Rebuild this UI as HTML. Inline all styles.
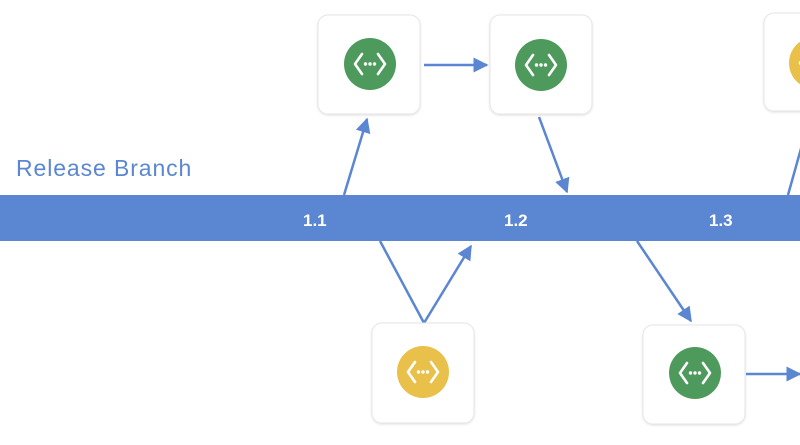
<!DOCTYPE html>
<html><head><style>
body{margin:0;background:#fff;width:800px;height:440px;overflow:hidden;font-family:"Liberation Sans",sans-serif}
</style></head><body>
<svg width="800" height="440">
<defs>
<marker id="ah" viewBox="0 0 10 10" refX="9" refY="5" markerWidth="6" markerHeight="6" orient="auto"><path d="M0,0L10,5L0,10z" fill="#5b86d1"/></marker>
<filter id="sh" x="-10%" y="-10%" width="120%" height="120%"><feDropShadow dx="0" dy="1" stdDeviation="1" flood-color="#000" flood-opacity="0.12"/></filter>
<g id="ic"><path d="M-8,-10L-15,0L-8,10M8,-10L15,0L8,10" fill="none" stroke="#fff" stroke-width="2.6" stroke-linecap="round" stroke-linejoin="round"/><circle cx="-4.5" cy="0" r="1.7" fill="#fff"/><circle cx="0" cy="0" r="1.7" fill="#fff"/><circle cx="4.5" cy="0" r="1.7" fill="#fff"/></g>
</defs>
<text x="16" y="176" font-size="23" letter-spacing="0.9" fill="#5b86d1">Release Branch</text>
<rect x="0" y="195" width="800" height="46" fill="#5b86d1"/>
<g font-size="17" font-weight="bold" fill="#fff">
<text x="303" y="226">1.1</text>
<text x="504" y="226">1.2</text>
<text x="709" y="226">1.3</text>
</g>
<g stroke="#5b86d1" stroke-width="2.5" fill="none">
<line x1="344" y1="195" x2="367" y2="119" marker-end="url(#ah)"/>
<line x1="424" y1="65" x2="487" y2="65" marker-end="url(#ah)"/>
<line x1="539" y1="117" x2="567" y2="192" marker-end="url(#ah)"/>
<line x1="380" y1="241" x2="424" y2="323"/>
<line x1="424" y1="323" x2="471" y2="246" marker-end="url(#ah)"/>
<line x1="637" y1="241" x2="691" y2="321" marker-end="url(#ah)"/>
<line x1="746" y1="374" x2="800" y2="374" marker-end="url(#ah)"/>
<line x1="788" y1="195" x2="802" y2="145"/>
</g>
<g><rect x="318" y="15" width="102" height="99" rx="10" fill="#fff" stroke="#e6e6e6" filter="url(#sh)"/><circle cx="370" cy="64" r="26" fill="#4e9a5c"/><use href="#ic" x="370" y="64"/></g>
<g><rect x="490" y="15" width="102" height="99" rx="10" fill="#fff" stroke="#e6e6e6" filter="url(#sh)"/><circle cx="541" cy="65" r="26" fill="#4e9a5c"/><use href="#ic" x="541" y="65"/></g>
<g><rect x="764" y="13" width="102" height="98" rx="10" fill="#fff" stroke="#e6e6e6" filter="url(#sh)"/><circle cx="815" cy="63" r="26" fill="#e8c04a"/><use href="#ic" x="815" y="63"/></g>
<g><rect x="372" y="323" width="102" height="100" rx="10" fill="#fff" stroke="#e6e6e6" filter="url(#sh)"/><circle cx="423" cy="372" r="26" fill="#e8c04a"/><use href="#ic" x="423" y="372"/></g>
<g><rect x="643" y="325" width="102" height="99" rx="10" fill="#fff" stroke="#e6e6e6" filter="url(#sh)"/><circle cx="695" cy="373" r="26" fill="#4e9a5c"/><use href="#ic" x="695" y="373"/></g>
</svg>
</body></html>
